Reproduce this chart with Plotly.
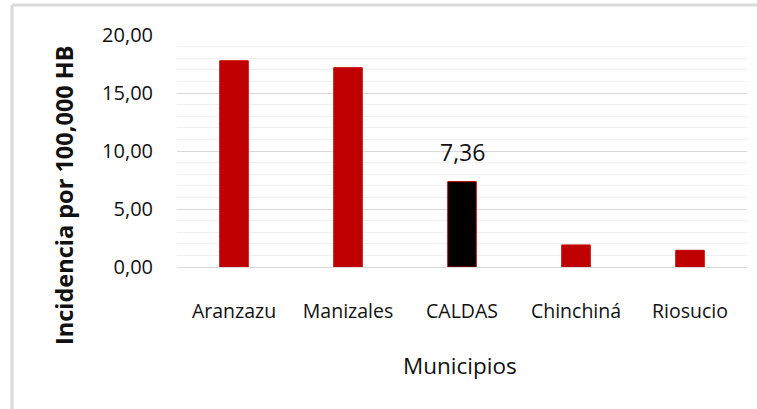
import plotly.graph_objects as go

municipios = ["Aranzazu", "Manizales", "CALDAS", "Chinchiná", "Riosucio"]
incidencia = [17.78, 17.18, 7.36, 1.90, 1.44]
destacado = "CALDAS"
y_ticks = [0, 5, 10, 15, 20]

RED = "#c00000"
colors = ["#000000" if m == destacado else RED for m in municipios]

FONT = "Open Sans"
TXT = "#111111"
W, H = 757, 409
L, R, T, B = 177, 10, 35, 142
pw, ph = W - L - R, H - T - B

def px(x):
    return (x - L) / pw

def py(y):
    return (H - B - y) / ph

fig = go.Figure(go.Bar(
    x=municipios, y=incidencia,
    marker=dict(color=colors, line=dict(color=RED, width=1)),
    width=0.25, hoverinfo="skip",
))

value_labels = [
    dict(x=m, y=v, xref="x", yref="y", text=f"{v:.2f}".replace(".", ","),
         showarrow=False, yanchor="bottom", yshift=12,
         font=dict(family=FONT, size=23, color=TXT, weight=500))
    for m, v in zip(municipios, incidencia) if m == destacado
]

fig.update_layout(
    width=W, height=H,
    margin=dict(l=L, r=R, t=T, b=B),
    paper_bgcolor="white", plot_bgcolor="white",
    separators=",.",
    showlegend=False,
    font=dict(family=FONT, color=TXT),
    xaxis=dict(
        showgrid=False, showline=False, zeroline=False,
        tickfont=dict(family=FONT, size=19.5, color=TXT, weight=500),
        ticklabelstandoff=30,
    ),
    yaxis=dict(
        range=[0, 20], tickvals=y_ticks, tickformat=".2f",
        showgrid=True, gridcolor="#d9d9d9", gridwidth=1,
        zeroline=True, zerolinecolor="#d9d9d9", zerolinewidth=1,
        showline=False,
        minor=dict(dtick=1, showgrid=True, gridcolor="#f0f0f0", gridwidth=1),
        tickfont=dict(family=FONT, size=20, color=TXT, weight=500),
        ticklabelstandoff=23,
    ),
    annotations=value_labels + [
        dict(text="Incidencia por 100,000 HB", xref="paper", yref="paper",
             x=px(64), y=py(195), textangle=-90, showarrow=False,
             font=dict(family=FONT, size=23.5, color=TXT, weight="bold"),
             xanchor="center", yanchor="middle"),
        dict(text="Municipios", xref="paper", yref="paper",
             x=px(460), y=py(365), showarrow=False,
             font=dict(family=FONT, size=22.5, color=TXT, weight=500),
             xanchor="center", yanchor="middle"),
    ],
    shapes=[
        dict(type="line", xref="paper", yref="paper", x0=px(12), x1=px(757), y0=py(5), y1=py(5),
             line=dict(color="#d9d9d9", width=3), layer="above"),
        dict(type="line", xref="paper", yref="paper", x0=px(12), x1=px(12), y0=py(5), y1=py(409),
             line=dict(color="#d9d9d9", width=3), layer="above"),
    ],
)

fig.write_html("out.html", config={"displayModeBar": False},
               post_script="document.body.style.margin='0';")
